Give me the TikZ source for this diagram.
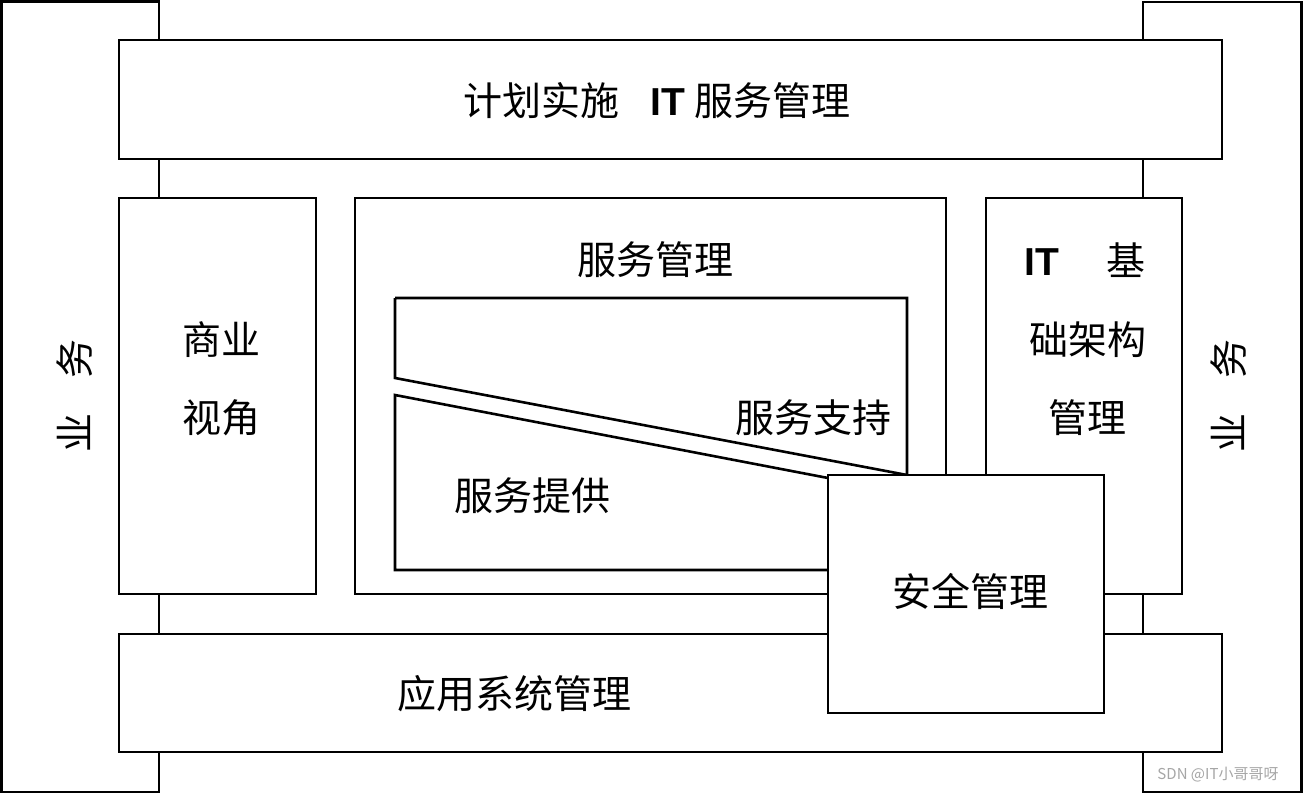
\documentclass[tikz,border=0pt]{standalone}
\usepackage{fontspec}
\setmainfont{Liberation Sans}
\newfontfamily\cjk{Noto Sans CJK SC}
\begin{document}
\begin{tikzpicture}[x=1pt,y=-1pt,line width=2.6pt,
  bx/.style={draw,fill=white},
  lbl/.style={font=\cjk\fontsize{39}{39}\selectfont,inner sep=0pt}]
\useasboundingbox (0,0) rectangle (1303,794);
\fill[white] (0,0) rectangle (1303,794);
\draw[bx] (1.5,1.5) rectangle (159,792) coordinate (l);
\draw[bx] (1143,2) rectangle (1301.5,792) coordinate (r);
\draw[bx] (119,40) rectangle (1222,159);
\draw[bx] (119,634) rectangle (1222,752);
\draw[bx] (119,198) rectangle (316,594);
\draw[bx] (355,198) rectangle (946,594);
\draw[bx] (986,198) rectangle (1182,594);
\coordinate (a1) at (395,378); \coordinate (a2) at (395,298);
\coordinate (a3) at (907,298); \coordinate (a4) at (907,475);
\draw (a2) -- (a1) -- (a4) -- (a3) -- (a2);
\coordinate (b1) at (395,395); \coordinate (b2) at (828,478);
\coordinate (b3) at (828,570); \coordinate (b4) at (395,570);
\draw (b2) -- (b1) -- (b4) -- (b3);
\draw[bx] (828,475) rectangle (1104,713);
\node[lbl,rotate=90] (yl) at (75,396) {业\hspace{0.9em}务};
\node[lbl,rotate=90] (yr) at (1229,396) {业\hspace{0.9em}务};
\node[lbl] (t) at (657,101) {计划实施\hspace{0.8em}{\rmfamily\bfseries IT} 服务管理};
\node[lbl] (ap) at (514,694) {应用系统管理};
\node[lbl] (s1) at (221,340) {商业};
\node[lbl] (s2) at (221,418) {视角};
\node[lbl] (fw) at (655,260) {服务管理};
\node[lbl] (zc) at (813,418) {服务支持};
\node[lbl] (tg) at (532,496) {服务提供};
\node[lbl] (i1) at (1085,260) {{\rmfamily\bfseries IT}\hspace{1.2em}基};
\node[lbl] (i2) at (1088,340) {础架构};
\node[lbl] (i3) at (1087,418) {管理};
\node[lbl] (aq) at (970,591) {安全管理};
\node[font=\cjk\fontsize{15}{15}\selectfont,text=gray!70,inner sep=0pt] (wm) at (1218,775) {SDN @IT小哥哥呀};
\end{tikzpicture}
\end{document}
